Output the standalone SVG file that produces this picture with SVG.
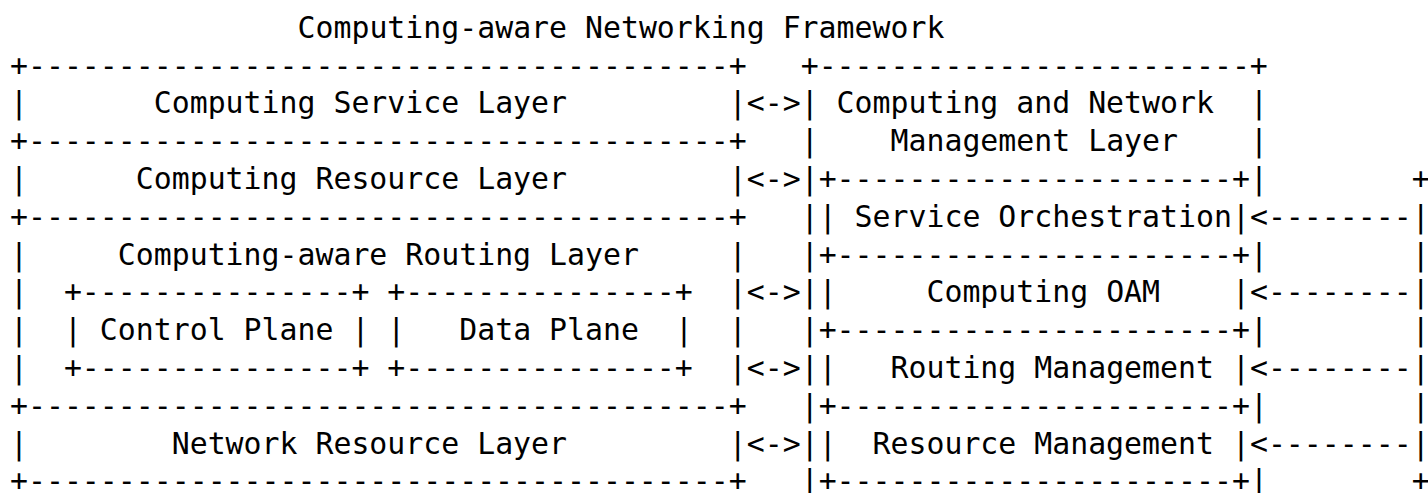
<svg xmlns="http://www.w3.org/2000/svg" width="1428" height="493" viewBox="0 0 1428 493">
<style>
text { font-family: "DejaVu Sans Mono", "Liberation Mono", monospace; font-size: 29.85px; fill: #000; white-space: pre; }
</style>
<rect width="1428" height="493" fill="#fff"/>
<g id="title"><text x="297.52" y="38">Computing-aware Networking Framework</text></g>

<g id="computing-service-layer">
<text x="10" y="75.5">+---------------------------------------+</text>
<text y="113.3"><tspan x="10">|</tspan><tspan x="153.76">Computing Service Layer</tspan><tspan x="728.8">|</tspan></text>
</g>

<g id="computing-resource-layer">
<text x="10" y="151.1">+---------------------------------------+</text>
<text y="188.9"><tspan x="10">|</tspan><tspan x="135.79">Computing Resource Layer</tspan><tspan x="728.8">|</tspan></text>
</g>

<g id="computing-aware-routing-layer">
<text x="10" y="226.7">+---------------------------------------+</text>
<text y="264.5"><tspan x="10">|</tspan><tspan x="117.82">Computing-aware Routing Layer</tspan><tspan x="728.8">|</tspan></text>
<text y="302.3"><tspan x="10">|</tspan><tspan x="728.8">|</tspan></text>
<text y="340.1"><tspan x="10">|</tspan><tspan x="728.8">|</tspan></text>
<text y="377.9"><tspan x="10">|</tspan><tspan x="728.8">|</tspan></text>
<g id="control-plane">
<text x="63.91" y="302.3">+---------------+</text>
<text y="340.1"><tspan x="63.91">|</tspan><tspan x="99.85">Control Plane</tspan><tspan x="351.43">|</tspan></text>
<text x="63.91" y="377.9">+---------------+</text>
</g>
<g id="data-plane">
<text x="387.37" y="302.3">+---------------+</text>
<text y="340.1"><tspan x="387.37">|</tspan><tspan x="459.25">Data Plane</tspan><tspan x="674.89">|</tspan></text>
<text x="387.37" y="377.9">+---------------+</text>
</g>
</g>

<g id="network-resource-layer">
<text x="10" y="415.7">+---------------------------------------+</text>
<text y="453.5"><tspan x="10">|</tspan><tspan x="171.73">Network Resource Layer</tspan><tspan x="728.8">|</tspan></text>
<text x="10" y="491.3">+---------------------------------------+</text>
</g>

<g id="computing-and-network-management-layer">
<text x="800.68" y="75.5">+------------------------+</text>
<text y="113.3"><tspan x="800.68">|</tspan><tspan x="836.62">Computing and Network</tspan><tspan x="1249.93">|</tspan></text>
<text y="151.1"><tspan x="800.68">|</tspan><tspan x="890.53">Management Layer</tspan><tspan x="1249.93">|</tspan></text>
<text y="188.9"><tspan x="800.68">|</tspan><tspan x="1249.93">|</tspan></text>
<text y="226.7"><tspan x="800.68">|</tspan></text>
<text y="264.5"><tspan x="800.68">|</tspan><tspan x="1249.93">|</tspan></text>
<text y="302.3"><tspan x="800.68">|</tspan></text>
<text y="340.1"><tspan x="800.68">|</tspan><tspan x="1249.93">|</tspan></text>
<text y="377.9"><tspan x="800.68">|</tspan></text>
<text y="415.7"><tspan x="800.68">|</tspan><tspan x="1249.93">|</tspan></text>
<text y="453.5"><tspan x="800.68">|</tspan></text>
<text y="491.3"><tspan x="800.68">|</tspan><tspan x="1249.93">|</tspan></text>
<g id="service-orchestration">
<text x="818.65" y="188.9">+----------------------+</text>
<text y="226.7"><tspan x="818.65">|</tspan><tspan x="854.59">Service Orchestration</tspan><tspan x="1231.96">|</tspan></text>
</g>
<g id="computing-oam">
<text x="818.65" y="264.5">+----------------------+</text>
<text y="302.3"><tspan x="818.65">|</tspan><tspan x="926.47">Computing OAM</tspan><tspan x="1231.96">|</tspan></text>
</g>
<g id="routing-management">
<text x="818.65" y="340.1">+----------------------+</text>
<text y="377.9"><tspan x="818.65">|</tspan><tspan x="890.53">Routing Management</tspan><tspan x="1231.96">|</tspan></text>
</g>
<g id="resource-management">
<text x="818.65" y="415.7">+----------------------+</text>
<text y="453.5"><tspan x="818.65">|</tspan><tspan x="872.56">Resource Management</tspan><tspan x="1231.96">|</tspan></text>
<text x="818.65" y="491.3">+----------------------+</text>
</g>
</g>

<g id="connectors">
<text x="746.77" y="113.3">&lt;-&gt;</text>
<text x="746.77" y="188.9">&lt;-&gt;</text>
<text x="746.77" y="302.3">&lt;-&gt;</text>
<text x="746.77" y="377.9">&lt;-&gt;</text>
<text x="746.77" y="453.5">&lt;-&gt;</text>
<text x="1249.93" y="226.7">&lt;--------</text>
<text x="1249.93" y="302.3">&lt;--------</text>
<text x="1249.93" y="377.9">&lt;--------</text>
<text x="1249.93" y="453.5">&lt;--------</text>
<text x="1411.66" y="188.9">+</text>
<text x="1411.66" y="226.7">|</text>
<text x="1411.66" y="264.5">|</text>
<text x="1411.66" y="302.3">|</text>
<text x="1411.66" y="340.1">|</text>
<text x="1411.66" y="377.9">|</text>
<text x="1411.66" y="415.7">|</text>
<text x="1411.66" y="453.5">|</text>
<text x="1411.66" y="491.3">+</text>
</g>
</svg>
